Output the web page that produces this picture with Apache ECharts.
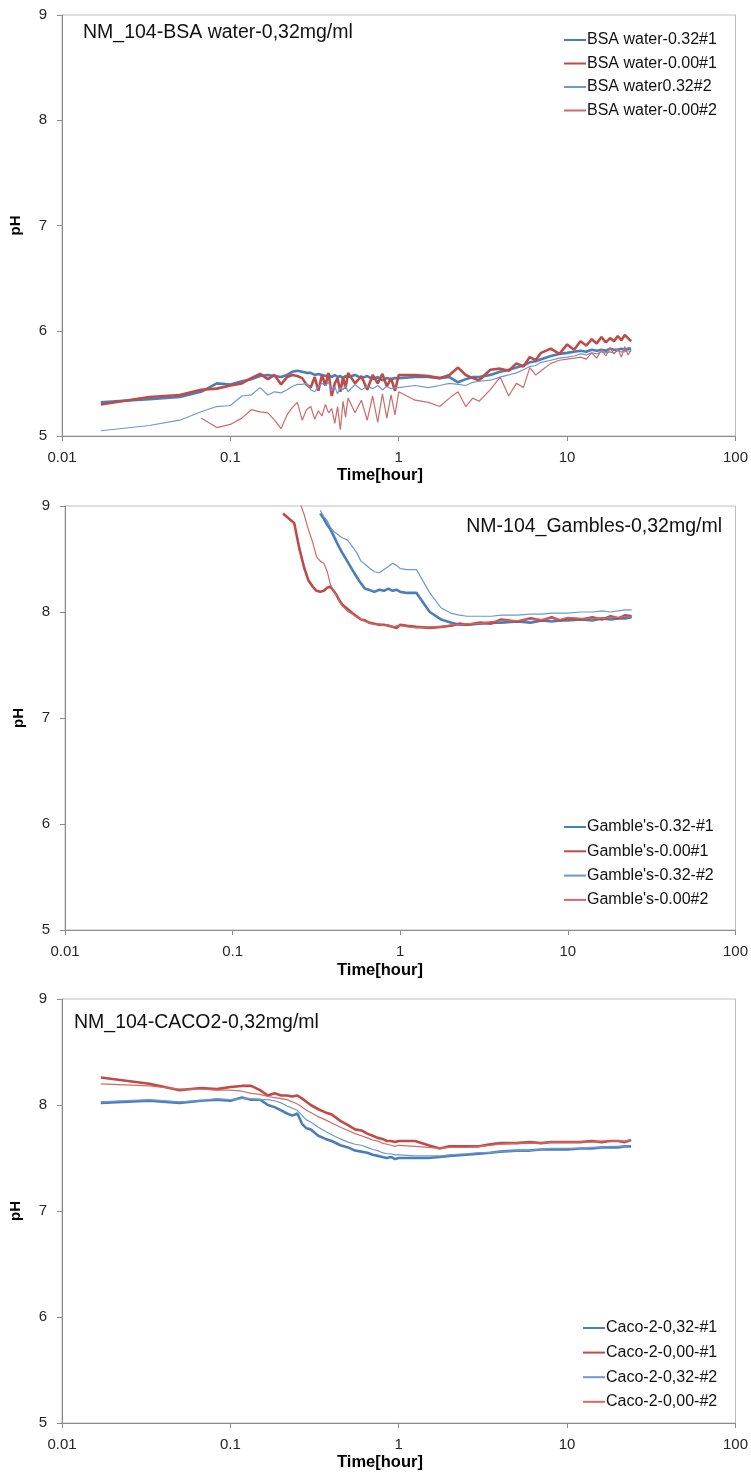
<!DOCTYPE html>
<html>
<head>
<meta charset="utf-8">
<title>NM-104 pH</title>
<script src="https://cdn.jsdelivr.net/npm/echarts@6/dist/echarts.min.js"></script>
<style>
  html, body { margin: 0; padding: 0; background: #fff; }
  #main { width: 751px; height: 1472px; }
</style>
</head>
<body>
<div id="main"></div>
<script>
// ---- data (time in hours, pH) ----
const xTickLabels = ['0.01', '0.1', '1', '10', '100'];

// panel 1: BSA water
const bsaTime = [0.017, 0.033, 0.05, 0.067, 0.083, 0.1, 0.117, 0.133, 0.15, 0.167, 0.183, 0.2, 0.217, 0.233, 0.25, 0.267, 0.283, 0.3, 0.317, 0.333,
  0.35, 0.367, 0.383, 0.4, 0.417, 0.433, 0.45, 0.467, 0.483, 0.5, 0.55, 0.6, 0.65, 0.7, 0.75, 0.8, 0.85, 0.9, 0.95, 1.0,
  1.25, 1.5, 1.75, 2.0, 2.25, 2.5, 2.75, 3.0, 3.5, 4.0, 4.5, 5.0, 5.5, 6.0, 6.5, 7.0, 8, 9, 10, 11,
  12, 13, 14, 15, 16, 17, 18, 19, 20, 21, 22, 23, 24];
const bsa032n1 = [5.32, 5.35, 5.37, 5.42, 5.50, 5.49, 5.52, 5.54, 5.57, 5.58, 5.57, 5.56, 5.58, 5.61, 5.62, 5.61, 5.60, 5.60, 5.58, 5.59,
  5.58, 5.57, 5.58, 5.56, 5.58, 5.56, 5.57, 5.55, 5.57, 5.56, 5.58, 5.55, 5.57, 5.54, 5.56, 5.53, 5.55, 5.54, 5.55, 5.55,
  5.56, 5.56, 5.55, 5.56, 5.51, 5.54, 5.56, 5.56, 5.58, 5.61, 5.63, 5.65, 5.67, 5.70, 5.71, 5.73, 5.76, 5.78, 5.79, 5.80,
  5.81, 5.80, 5.82, 5.81, 5.82, 5.81, 5.83, 5.82, 5.82, 5.83, 5.82, 5.83, 5.83];
const bsa000n1 = [5.30, 5.37, 5.39, 5.44, 5.45, 5.48, 5.50, 5.55, 5.59, 5.54, 5.58, 5.49, 5.56, 5.58, 5.57, 5.55, 5.49, 5.46, 5.56, 5.43,
  5.58, 5.48, 5.60, 5.38, 5.50, 5.55, 5.42, 5.56, 5.45, 5.60, 5.50, 5.57, 5.44, 5.58, 5.50, 5.59, 5.47, 5.55, 5.43, 5.58,
  5.58, 5.57, 5.55, 5.58, 5.65, 5.58, 5.55, 5.53, 5.63, 5.64, 5.62, 5.69, 5.66, 5.75, 5.72, 5.79, 5.83, 5.78, 5.87, 5.82,
  5.90, 5.86, 5.92, 5.88, 5.94, 5.89, 5.93, 5.90, 5.95, 5.91, 5.96, 5.93, 5.90];
const bsa032n2 = [5.05, 5.10, 5.15, 5.23, 5.28, 5.29, 5.38, 5.39, 5.46, 5.39, 5.42, 5.41, 5.44, 5.47, 5.49, 5.49, 5.50, 5.44, 5.42, 5.47,
  5.50, 5.48, 5.51, 5.43, 5.47, 5.40, 5.46, 5.44, 5.48, 5.42, 5.49, 5.44, 5.47, 5.45, 5.48, 5.44, 5.47, 5.45, 5.46, 5.46,
  5.48, 5.46, 5.48, 5.50, 5.49, 5.48, 5.51, 5.52, 5.53, 5.56, 5.58, 5.60, 5.63, 5.66, 5.67, 5.70, 5.72, 5.74, 5.75, 5.76,
  5.78, 5.77, 5.79, 5.78, 5.80, 5.79, 5.80, 5.79, 5.81, 5.80, 5.80, 5.81, 5.80];
const bsa000n2 = [null, null, null, 5.17, 5.08, 5.11, 5.17, 5.25, 5.23, 5.22, 5.15, 5.07, 5.20, 5.27, 5.32, 5.15, 5.25, 5.28, 5.16, 5.24,
  5.19, 5.30, 5.22, 5.26, 5.12, 5.28, 5.06, 5.33, 5.18, 5.36, 5.22, 5.34, 5.15, 5.38, 5.13, 5.40, 5.17, 5.39, 5.20, 5.42,
  5.34, 5.32, 5.28, 5.36, 5.42, 5.28, 5.36, 5.33, 5.44, 5.56, 5.38, 5.50, 5.46, 5.65, 5.58, 5.62, 5.69, 5.72, 5.73, 5.74,
  5.75, 5.73, 5.79, 5.74, 5.82, 5.76, 5.84, 5.78, 5.83, 5.75, 5.85, 5.77, 5.82];

// panel 2: Gamble's
const gamTime = [0.2, 0.217, 0.233, 0.25, 0.267, 0.283, 0.3, 0.317, 0.333, 0.35, 0.367, 0.383, 0.4, 0.417, 0.433, 0.45, 0.483, 0.517, 0.55, 0.583,
  0.617, 0.65, 0.7, 0.75, 0.8, 0.85, 0.9, 0.95, 1.0, 1.1, 1.25, 1.5, 1.75, 2.0, 2.25, 2.5, 3, 3.5, 4, 5,
  6, 7, 8, 9, 10, 12, 14, 16, 18, 20, 22, 24];
const gam032n1 = [null, null, null, null, null, null, null, null, 8.93, 8.88, 8.82, 8.78, 8.72, 8.66, 8.61, 8.56, 8.48, 8.40, 8.33, 8.27,
  8.22, 8.21, 8.19, 8.21, 8.20, 8.22, 8.20, 8.21, 8.19, 8.18, 8.18, 8.00, 7.93, 7.90, 7.88, 7.88, 7.89, 7.90, 7.90, 7.91,
  7.90, 7.92, 7.91, 7.92, 7.92, 7.93, 7.92, 7.94, 7.93, 7.94, 7.94, 7.95];
const gam000n1 = [8.93, 8.88, 8.84, 8.60, 8.42, 8.30, 8.24, 8.20, 8.19, 8.20, 8.23, 8.24, 8.20, 8.16, 8.11, 8.07, 8.03, 7.99, 7.96, 7.93,
  7.92, 7.90, 7.89, 7.88, 7.88, 7.87, 7.86, 7.85, 7.88, 7.87, 7.86, 7.85, 7.86, 7.87, 7.89, 7.88, 7.90, 7.89, 7.93, 7.91,
  7.94, 7.92, 7.95, 7.92, 7.94, 7.93, 7.95, 7.93, 7.96, 7.94, 7.97, 7.96];
const gam032n2 = [null, null, null, null, null, null, null, null, 8.96, 8.90, 8.86, 8.80, 8.76, 8.74, 8.72, 8.70, 8.68, 8.62, 8.56, 8.48,
  8.45, 8.42, 8.38, 8.37, 8.40, 8.43, 8.46, 8.44, 8.41, 8.40, 8.40, 8.18, 8.04, 7.99, 7.97, 7.96, 7.96, 7.96, 7.97, 7.97,
  7.98, 7.98, 7.99, 7.99, 7.99, 8.00, 8.00, 8.01, 8.00, 8.01, 8.02, 8.02];
const gam000n2 = [null, null, null, 9.05, 8.92, 8.78, 8.66, 8.52, 8.48, 8.46, 8.38, 8.26, 8.20, 8.15, 8.10, 8.06, 8.01, 7.98, 7.95, 7.93,
  7.91, 7.90, 7.88, 7.89, 7.87, 7.88, 7.86, 7.87, 7.87, 7.86, 7.85, 7.86, 7.86, 7.88, 7.88, 7.89, 7.89, 7.91, 7.92, 7.92,
  7.93, 7.93, 7.94, 7.93, 7.95, 7.94, 7.94, 7.94, 7.95, 7.95, 7.96, 7.95];

// panel 3: Caco-2
const cacTime = [0.017, 0.033, 0.05, 0.067, 0.083, 0.1, 0.117, 0.133, 0.15, 0.167, 0.183, 0.2, 0.217, 0.233, 0.25, 0.267, 0.283, 0.3, 0.333, 0.367,
  0.4, 0.45, 0.5, 0.55, 0.6, 0.65, 0.7, 0.75, 0.8, 0.85, 0.9, 0.95, 1.0, 1.25, 1.5, 1.75, 2.0, 2.5, 3, 3.5,
  4, 5, 6, 7, 8, 10, 12, 14, 16, 18, 20, 22, 24];
const cac032n1 = [8.02, 8.04, 8.02, 8.04, 8.05, 8.04, 8.07, 8.05, 8.05, 8.00, 7.98, 7.95, 7.92, 7.90, 7.92, 7.82, 7.78, 7.77, 7.71, 7.68,
  7.66, 7.62, 7.60, 7.57, 7.56, 7.55, 7.53, 7.52, 7.51, 7.50, 7.51, 7.49, 7.50, 7.50, 7.50, 7.51, 7.52, 7.53, 7.54, 7.55,
  7.56, 7.57, 7.57, 7.58, 7.58, 7.58, 7.59, 7.59, 7.60, 7.60, 7.60, 7.61, 7.61];
const cac000n1 = [8.26, 8.20, 8.14, 8.16, 8.15, 8.17, 8.18, 8.18, 8.14, 8.09, 8.11, 8.09, 8.09, 8.08, 8.09, 8.06, 8.03, 8.00, 7.96, 7.93,
  7.91, 7.85, 7.81, 7.77, 7.76, 7.73, 7.71, 7.69, 7.68, 7.66, 7.66, 7.65, 7.66, 7.66, 7.62, 7.59, 7.61, 7.61, 7.61, 7.63,
  7.64, 7.64, 7.65, 7.64, 7.65, 7.65, 7.65, 7.66, 7.65, 7.66, 7.66, 7.65, 7.67];
const cac032n2 = [8.03, 8.05, 8.03, 8.04, 8.06, 8.05, 8.06, 8.06, 8.05, 8.05, 8.04, 8.02, 7.99, 7.97, 7.95, 7.90, 7.86, 7.84, 7.79, 7.75,
  7.72, 7.68, 7.65, 7.63, 7.62, 7.60, 7.58, 7.57, 7.55, 7.54, 7.54, 7.53, 7.53, 7.52, 7.52, 7.52, 7.53, 7.54, 7.55, 7.55,
  7.56, 7.57, 7.57, 7.58, 7.59, 7.59, 7.59, 7.60, 7.60, 7.61, 7.61, 7.61, 7.62];
const cac000n2 = [8.20, 8.18, 8.15, 8.15, 8.14, 8.14, 8.13, 8.11, 8.10, 8.08, 8.07, 8.06, 8.05, 8.03, 8.01, 7.98, 7.95, 7.93, 7.89, 7.86,
  7.83, 7.79, 7.76, 7.73, 7.71, 7.69, 7.67, 7.66, 7.64, 7.63, 7.62, 7.61, 7.62, 7.61, 7.60, 7.59, 7.60, 7.60, 7.61, 7.62,
  7.63, 7.64, 7.64, 7.64, 7.65, 7.65, 7.65, 7.65, 7.66, 7.66, 7.66, 7.66, 7.67];

const panelTitles = ['NM_104-BSA water-0,32mg/ml', 'NM-104_Gambles-0,32mg/ml', 'NM_104-CACO2-0,32mg/ml'];
const bsaNames = ['BSA water-0.32#1', 'BSA water-0.00#1', 'BSA water0.32#2', 'BSA water-0.00#2'];
const gamNames = ["Gamble's-0.32-#1", "Gamble's-0.00#1", "Gamble's-0.32-#2", "Gamble's-0.00#2"];
const cacNames = ['Caco-2-0,32-#1', 'Caco-2-0,00-#1', 'Caco-2-0,32-#2', 'Caco-2-0,00-#2'];

// ---- styling ----
const FONT = "'Liberation Sans', Arial, sans-serif";
const BLUE = '#4a7ebb', RED = '#be4b48', BLUE_LT = '#6c98d4', RED_LT = '#cf6a67';
const lineLooks = [
  { color: BLUE, width: 2.6 },
  { color: RED, width: 2.6 },
  { color: BLUE_LT, width: 1.2 },
  { color: RED_LT, width: 1.2 }
];
const grids = [
  { left: 58, right: 15, top: 15, height: 421 },
  { left: 65, right: 14, top: 506, height: 424 },
  { left: 57, right: 14, top: 999, height: 424 }
];

function pairs(t, v) {
  return t.map((x, i) => [x, v[i]]).filter(p => p[1] != null);
}

const panels = [
  { time: bsaTime, names: bsaNames, values: [bsa032n1, bsa000n1, bsa032n2, bsa000n2] },
  { time: gamTime, names: gamNames, values: [gam032n1, gam000n1, gam032n2, gam000n2] },
  { time: cacTime, names: cacNames, values: [cac032n1, cac000n1, cac032n2, cac000n2] }
];

const series = [];
panels.forEach((p, gi) => {
  p.values.forEach((v, si) => {
    series.push({
      name: p.names[si], type: 'line', xAxisIndex: gi, yAxisIndex: gi,
      data: pairs(p.time, v), symbol: 'none', smooth: false,
      lineStyle: { color: lineLooks[si].color, width: lineLooks[si].width },
      itemStyle: { color: lineLooks[si].color },
      z: 2 + si
    });
  });
});

const axisGray = '#8c8c8c';
const xAxes = grids.map((g, i) => ({
  type: 'log', logBase: 10, min: 0.01, max: 100, gridIndex: i,
  axisLine: { lineStyle: { color: axisGray } },
  axisTick: { show: true, length: 5, lineStyle: { color: axisGray } },
  minorTick: { show: false },
  splitLine: { show: false },
  axisLabel: {
    margin: 14, color: '#262626', fontSize: 15, fontFamily: FONT,
    formatter: v => xTickLabels[Math.round(Math.log10(v)) + 2]
  }
}));
const yAxes = grids.map((g, i) => ({
  type: 'value', min: 5, max: 9, interval: 1, gridIndex: i,
  name: 'pH', nameLocation: 'middle', nameGap: 39, nameRotate: 90,
  nameTextStyle: { fontWeight: 'bold', fontSize: 15, fontFamily: FONT, color: '#000' },
  axisLine: { show: true, lineStyle: { color: axisGray } },
  axisTick: { show: true, length: 5, lineStyle: { color: axisGray } },
  splitLine: { show: false },
  axisLabel: { margin: 15, color: '#262626', fontSize: 15, fontFamily: FONT }
}));

const legendPos = [{ left: 563, top: 32 }, { left: 563, top: 819 }, { left: 582, top: 1320 }];
const legendGap = [7.5, 8.3, 8.6];
const legends = panels.map((p, i) => ({
  data: p.names, orient: 'vertical', left: legendPos[i].left, top: legendPos[i].top,
  itemWidth: 22, itemHeight: 14, itemGap: legendGap[i], padding: 0,
  itemStyle: { color: 'transparent', borderWidth: 0, opacity: 0 },
  textStyle: { fontSize: 16, lineHeight: 16, fontFamily: FONT, color: '#111', padding: [0, 0, 0, -4] },
  selectedMode: false
}));

const titleText = (x, y, text, align) => ({
  type: 'text', x: x, y: y,
  style: { text: text, fill: '#111', font: '19.5px ' + FONT, textAlign: align, textVerticalAlign: 'middle' }
});
const axisTitle = (y) => ({
  type: 'text', x: 380, y: y,
  style: { text: 'Time[hour]', fill: '#000', font: 'bold 16.5px ' + FONT, textAlign: 'center', textVerticalAlign: 'middle' }
});

const chart = echarts.init(document.getElementById('main'));
chart.setOption({
  animation: false,
  backgroundColor: '#fff',
  grid: grids.map(g => Object.assign({ show: true, borderColor: '#bdbdbd', borderWidth: 1, backgroundColor: 'transparent' }, g)),
  xAxis: xAxes,
  yAxis: yAxes,
  legend: legends,
  series: series,
  graphic: [
    titleText(83, 33, panelTitles[0], 'left'),
    titleText(722, 527, panelTitles[1], 'right'),
    titleText(74, 1023, panelTitles[2], 'left'),
    axisTitle(475),
    axisTitle(970),
    axisTitle(1462)
  ]
});
</script>
</body>
</html>
